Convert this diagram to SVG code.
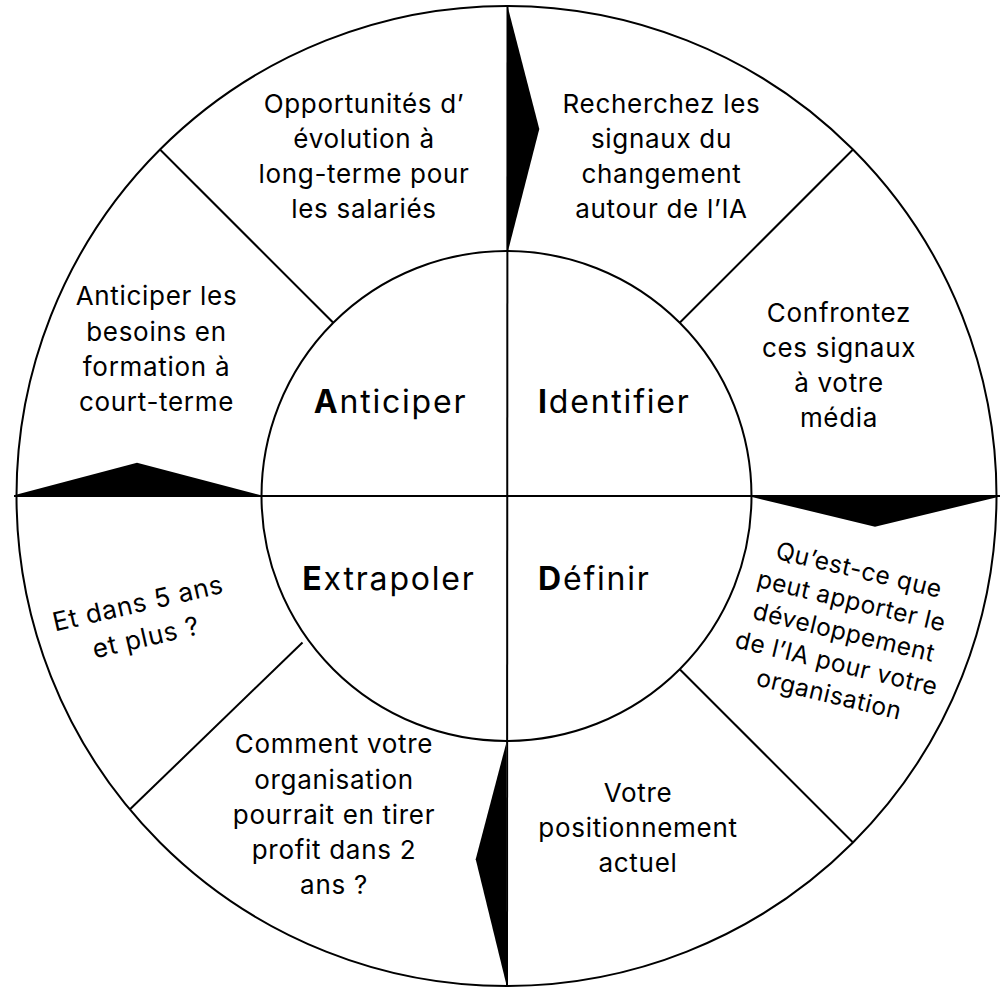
<svg xmlns="http://www.w3.org/2000/svg" width="1006" height="987" viewBox="0 0 1006 987">
  <style>
    .ring { fill: none; stroke: #000; stroke-width: 2; }
    .div { stroke: #000; stroke-width: 2; fill: none; }
    .arrow { fill: #000; stroke: none; }
    .t { font-family: Inter, "Liberation Sans", sans-serif; font-size: 26px; fill: #000; text-anchor: middle; letter-spacing: 0.7px; }
    .r { font-size: 24.5px; letter-spacing: 0.5px; }
    .c { font-family: Inter, "Liberation Sans", sans-serif; font-size: 32px; fill: #000; letter-spacing: 1.8px; }
    .b { font-weight: bold; }
  </style>
  <rect width="1006" height="987" fill="#fff"/>
  <g id="wheel">
    <circle class="ring" cx="506.5" cy="496" r="490"/>
    <circle class="ring" cx="506.5" cy="496" r="245"/>
  </g>
  <g id="connectors">
    <line class="div" x1="14" y1="496" x2="1000" y2="496"/>
    <line class="div" x1="507.5" y1="6" x2="507" y2="986"/>
    <line class="div" x1="160" y1="149.5" x2="333.3" y2="322.8"/>
    <line class="div" x1="853" y1="149.5" x2="679.7" y2="322.8"/>
    <line class="div" x1="679.7" y1="669.2" x2="853" y2="842.5"/>
    <line class="div" x1="302.5" y1="642.5" x2="130" y2="809.3"/>
    <polygon class="arrow" points="508,8 539.3,129 508,251"/>
    <polygon class="arrow" points="752,497 875,526.7 998,497"/>
    <polygon class="arrow" points="506,744 475.7,859.3 506,983"/>
    <polygon class="arrow" points="15,495 137,462.7 260,495"/>
  </g>
  <g id="anticiper">
    <text class="c" x="390.5" y="413.3" text-anchor="middle"><tspan class="b">A</tspan>nticiper</text>
  </g>
  <g id="identifier">
    <text class="c" x="538" y="413.3"><tspan class="b">I</tspan>dentifier</text>
  </g>
  <g id="extrapoler">
    <text class="c" x="389" y="590" text-anchor="middle"><tspan class="b">E</tspan>xtrapoler</text>
  </g>
  <g id="definir">
    <text class="c" x="538" y="590"><tspan class="b">D</tspan>éfinir</text>
  </g>
  <g id="opportunites">
    <text class="t" x="364" y="112.7">Opportunités d’</text>
    <text class="t" x="364" y="147.9">évolution à</text>
    <text class="t" x="364" y="183.1">long-terme pour</text>
    <text class="t" x="364" y="218.3">les salariés</text>
  </g>
  <g id="recherchez">
    <text class="t" x="661.5" y="112.7">Recherchez les</text>
    <text class="t" x="661.5" y="147.9">signaux du</text>
    <text class="t" x="661.5" y="183.1">changement</text>
    <text class="t" x="661.5" y="218.3">autour de l’IA</text>
  </g>
  <g id="anticiper-besoins">
    <text class="t" x="156.5" y="305">Anticiper les</text>
    <text class="t" x="156.5" y="340.5">besoins en</text>
    <text class="t" x="156.5" y="376">formation à</text>
    <text class="t" x="156.5" y="411">court-terme</text>
  </g>
  <g id="confrontez">
    <text class="t" x="839" y="321.7">Confrontez</text>
    <text class="t" x="839" y="357">ces signaux</text>
    <text class="t" x="839" y="392">à votre</text>
    <text class="t" x="839" y="427">média</text>
  </g>
  <g id="quest-ce">
    <g transform="translate(857,578) rotate(13.5)">
      <text class="t r" x="0" y="0">Qu’est-ce que</text>
      <text class="t r" x="0" y="32">peut apporter le</text>
      <text class="t r" x="0" y="64">développement</text>
      <text class="t r" x="0" y="96">de l’IA pour votre</text>
      <text class="t r" x="0" y="128">organisation</text>
    </g>
  </g>
  <g id="positionnement">
    <text class="t" x="638" y="801.7">Votre</text>
    <text class="t" x="638" y="836.7">positionnement</text>
    <text class="t" x="638" y="871.7">actuel</text>
  </g>
  <g id="comment">
    <text class="t" x="334" y="753.3">Comment votre</text>
    <text class="t" x="334" y="788.5">organisation</text>
    <text class="t" x="334" y="823.7">pourrait en tirer</text>
    <text class="t" x="334" y="859">profit dans 2</text>
    <text class="t" x="334" y="894">ans ?</text>
  </g>
  <g id="et-dans">
    <g transform="translate(140,612) rotate(-13)">
      <text class="t" x="0" y="0">Et dans 5 ans</text>
      <text class="t" x="0" y="35">et plus ?</text>
    </g>
  </g>
</svg>
